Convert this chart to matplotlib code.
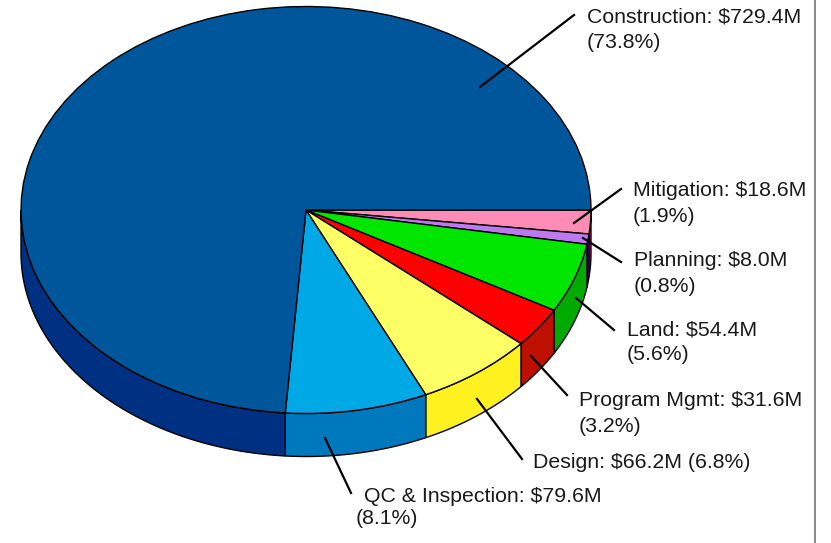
import numpy as np
import matplotlib
matplotlib.use("Agg")
import matplotlib.pyplot as plt
from matplotlib.lines import Line2D

plt.rcParams['font.family'] = ['Liberation Sans', 'DejaVu Sans']

# clockwise from 3 o'clock
categories = ["Mitigation", "Planning", "Land", "Program Mgmt", "Design", "QC & Inspection", "Construction"]
values = [18.6, 8.0, 54.4, 31.6, 66.2, 79.6, 729.4]
top_colors = ["#FF8CB4", "#BE78F0", "#00E600", "#FF0000", "#FFFF66", "#00A8E6", "#00569B"]
side_colors = ["#FF30B4", "#8800CC", "#00AA00", "#BE1000", "#FFF020", "#0078BE", "#003082"]

W, H = 831, 543
CX, CY = 306, 210   # pie centre in pixels
RX, RY = 285, 203.5   # pie radii in pixels
DEPTH = 43 / RY


def side_wall(ax, start, end, color):
    """Draw the visible part of the rim between two angles (degrees, clockwise)"""
    end = min(end, 180)
    if start >= end:
        return
    t = np.radians(np.linspace(start, end, 80))
    x = np.cos(t)
    y = -np.sin(t)
    ax.fill(np.r_[x, x[::-1]], np.r_[y, y[::-1] - DEPTH], facecolor=color,
            edgecolor="black", linewidth=1, zorder=1)


def leader(fig, x0, y0, x1, y1):
    fig.add_artist(Line2D([x0 / W, x1 / W], [1 - y0 / H, 1 - y1 / H], color="black",
                          linewidth=1.6, transform=fig.transFigure, zorder=5))


def label(fig, x, y, s):
    fig.text(x / W, 1 - (y + 1) / H, s, fontsize=15.3, color="#1a1a1a", va="center", ha="left", zorder=6)


fig = plt.figure(figsize=(W / 100, H / 100), dpi=100)
ax = fig.add_axes([0, 0, 1, 1])

# top face, squashed by the axis limits below
ax.pie(values, colors=top_colors, startangle=0, counterclock=False,
       wedgeprops={"edgecolor": "black", "linewidth": 1, "zorder": 2})
ax.set_aspect("auto")
ax.set_xlim(-CX / RX, (W - CX) / RX)
ax.set_ylim((CY - H) / RY, CY / RY)

# rim under the top face
angles = np.r_[0, np.cumsum(values)] / np.sum(values) * 360
for i in range(len(values)):
    side_wall(ax, angles[i], angles[i + 1], side_colors[i])

leader(fig, 480, 87, 574, 15)
leader(fig, 574, 223, 621, 189)
leader(fig, 583, 238, 621, 262)
leader(fig, 576, 298, 614, 330)
leader(fig, 531, 356, 567, 395)
leader(fig, 477, 399, 522, 459)
leader(fig, 325, 438, 351, 493)

label(fig, 587, 16, "Construction: $729.4M")
label(fig, 587, 41, "(73.8%)")
label(fig, 633, 190, "Mitigation: $18.6M")
label(fig, 633, 215, "(1.9%)")
label(fig, 634, 260, "Planning: $8.0M")
label(fig, 634, 286, "(0.8%)")
label(fig, 627, 329, "Land: $54.4M")
label(fig, 627, 354, "(5.6%)")
label(fig, 579, 400, "Program Mgmt: $31.6M")
label(fig, 579, 425, "(3.2%)")
label(fig, 533, 461, "Design: $66.2M (6.8%)")
label(fig, 364, 495, "QC & Inspection: $79.6M")
label(fig, 356, 518, "(8.1%)")

# grey border on the right
fig.add_artist(Line2D([814.5 / W, 814.5 / W], [0, 1], color="#777777", linewidth=1.2,
                      transform=fig.transFigure))

fig.savefig("out.png", dpi=100)
